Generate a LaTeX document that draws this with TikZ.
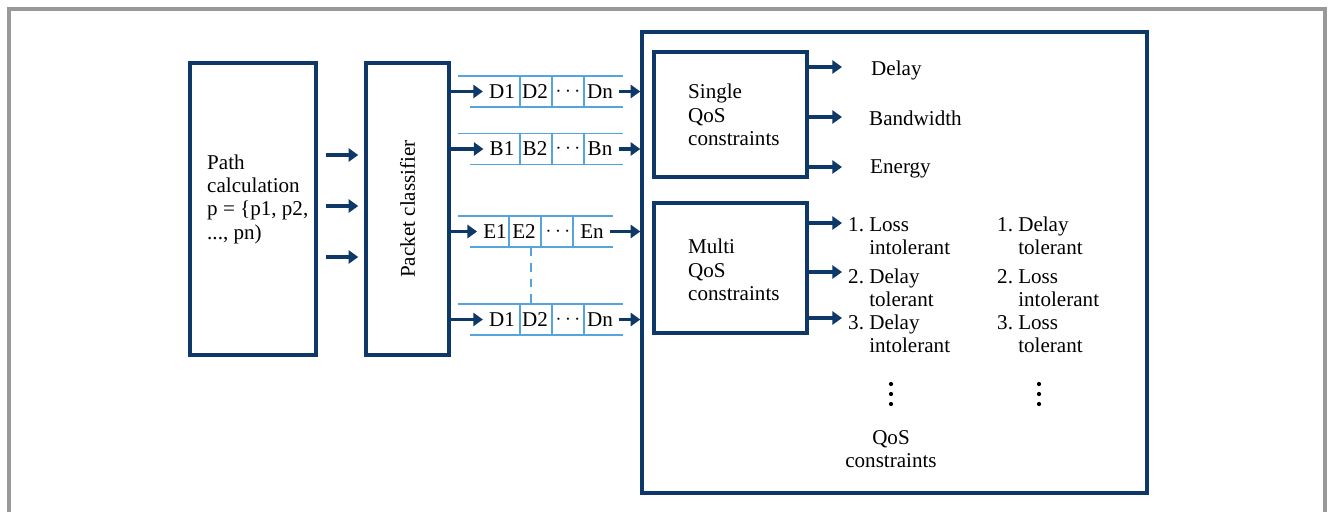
\documentclass[tikz,border=0pt]{standalone}
\usepackage{fontspec}
\setmainfont{Liberation Serif}
\usetikzlibrary{arrows.meta, positioning}

\definecolor{navy}{RGB}{14,56,104}
\definecolor{qblue}{RGB}{85,165,220}
\definecolor{framegray}{RGB}{153,153,153}

\tikzset{
    blk/.style={draw=navy, line width=2pt, fill=white, inner sep=0pt},
    arr/.style={navy, line width=2.2pt, -{Triangle[length=5.5pt,width=7.5pt]}},
    qline/.style={qblue, line width=0.8pt},
    txt/.style={font=\fontsize{12}{13.3}\selectfont\frenchspacing, align=left},
}

\begin{document}
\begin{tikzpicture}[x=0.02cm, y=-0.02cm]
        \useasboundingbox (0,0) rectangle (1329,512);

        % outer frame
        \draw[
            framegray,
            line width=2.3pt
        ] (9,512) -- (9,9) -- (1325,9) -- (1325,512);

        % path calculation and classifier
        \node[blk, minimum width=2.52cm, minimum height=5.84cm] (pathbox) at (253,209) {};
        \node[txt, anchor=west] (pathtext) at (201,199) {Path\\calculation\\p = \{p1, p2,\\..., pn)};

        \node[blk, minimum width=1.66cm, minimum height=5.84cm] (classifier) at (407.5,209) {};
        \node[txt, rotate=90] (classtext) at (classifier) {Packet classifier};

        \foreach \y in {155,206,257}
            \draw[arr, shorten <=0.16cm, shorten >=0.12cm] (pathbox.east |- 0,\y) -- (classifier.west |- 0,\y);

        % queues
        \foreach \q/\y/\ltr in {d/91.5/D, b/149/B, f/319.5/D} {
            \draw[qline] (458,\y-15.5) -- (623,\y-15.5);
            \draw[qline] (470,\y+15.5) -- (623,\y+15.5);
            \foreach \x in {520,552,584}
                \draw[qline] (\x,\y-15.5) -- (\x,\y+15.5);
            \node[txt] (\q1) at (502,\y) {\ltr1};
            \node[txt] (\q2) at (535,\y) {\ltr2};
            \node[txt] (\q3) at (568,\y) {$\cdots$};
            \node[txt] (\q4) at (600,\y) {\ltr n};
        }

        \draw[qline] (458,216) -- (613,216);
        \draw[qline] (470,247) -- (613,247);
        \foreach \x in {509,541,573}
            \draw[qline] (\x,216) -- (\x,247);
        \node[txt] (e1) at (495,231.5) {E1};
        \node[txt] (e2) at (524,231.5) {E2};
        \node[txt] (e3) at (558,231.5) {$\cdots$};
        \node[txt] (e4) at (592,231.5) {En};

        \draw[qline, dash pattern=on 5pt off 4pt] (531,247) -- (531,304);

        % QoS block
        \node[blk, minimum width=10.1cm, minimum height=9.22cm] (qos) at (894.5,262.5) {};

        \foreach \q in {d,b,e,f} {
            \draw[arr] (classifier.east |- \q1) -- (\q1.west);
            \draw[arr] (\q4.east) -- (qos.west |- \q4.east);
        }

        \node[blk, minimum width=3.06cm, minimum height=2.5cm] (single) at (730.5,114.5) {};
        \node[txt, anchor=west] (singletext) at (682,115) {Single\\QoS\\constraints};

        \node[blk, minimum width=3.06cm, minimum height=2.6cm] (multi) at (730.5,268) {};
        \node[txt, anchor=west] (multitext) at (682,270) {Multi\\QoS\\constraints};

        % single constraints
        \coordinate (odelay) at (842,67);
        \coordinate (oband) at (842,117);
        \coordinate (oenergy) at (842,167);
        \draw[arr] (single.east |- odelay) -- (odelay);
        \draw[arr] (single.east |- oband) -- (oband);
        \draw[arr] (single.east |- oenergy) -- (oenergy);
        \node[txt, anchor=west] (delay) at (865,70) {Delay};
        \node[txt, anchor=west] (band) at (863,118) {Bandwidth};
        \node[txt, anchor=west] (energy) at (864,169) {Energy};

        % multi constraints
        \coordinate (om1) at (842,223);
        \coordinate (om2) at (842,272);
        \coordinate (om3) at (842,318);
        \draw[arr] (multi.east |- om1) -- (om1);
        \draw[arr] (multi.east |- om2) -- (om2);
        \draw[arr] (multi.east |- om3) -- (om3);
        \node[txt, anchor=west] (lossint) at (842,236) {1. Loss\\\phantom{1. }intolerant};
        \node[txt, anchor=west] (delaytol) at (842,288) {2. Delay\\\phantom{2. }tolerant};
        \node[txt, anchor=west] (delayint) at (842,334) {3. Delay\\\phantom{3. }intolerant};

        \node[txt, anchor=west] (rdelaytol) at (991,236) {1. Delay\\\phantom{1. }tolerant};
        \node[txt, anchor=west] (rlossint) at (991,288) {2. Loss\\\phantom{2. }intolerant};
        \node[txt, anchor=west] (rlosstol) at (991,334) {3. Loss\\\phantom{3. }tolerant};

        \foreach \y in {384,394,404} {
            \fill (891,\y) circle (1.2pt);
            \fill (1039,\y) circle (1.2pt);
        }

        \node[txt, align=center] (qostext) at (891,449) {QoS\\constraints};
    \end{tikzpicture}
\end{document}
